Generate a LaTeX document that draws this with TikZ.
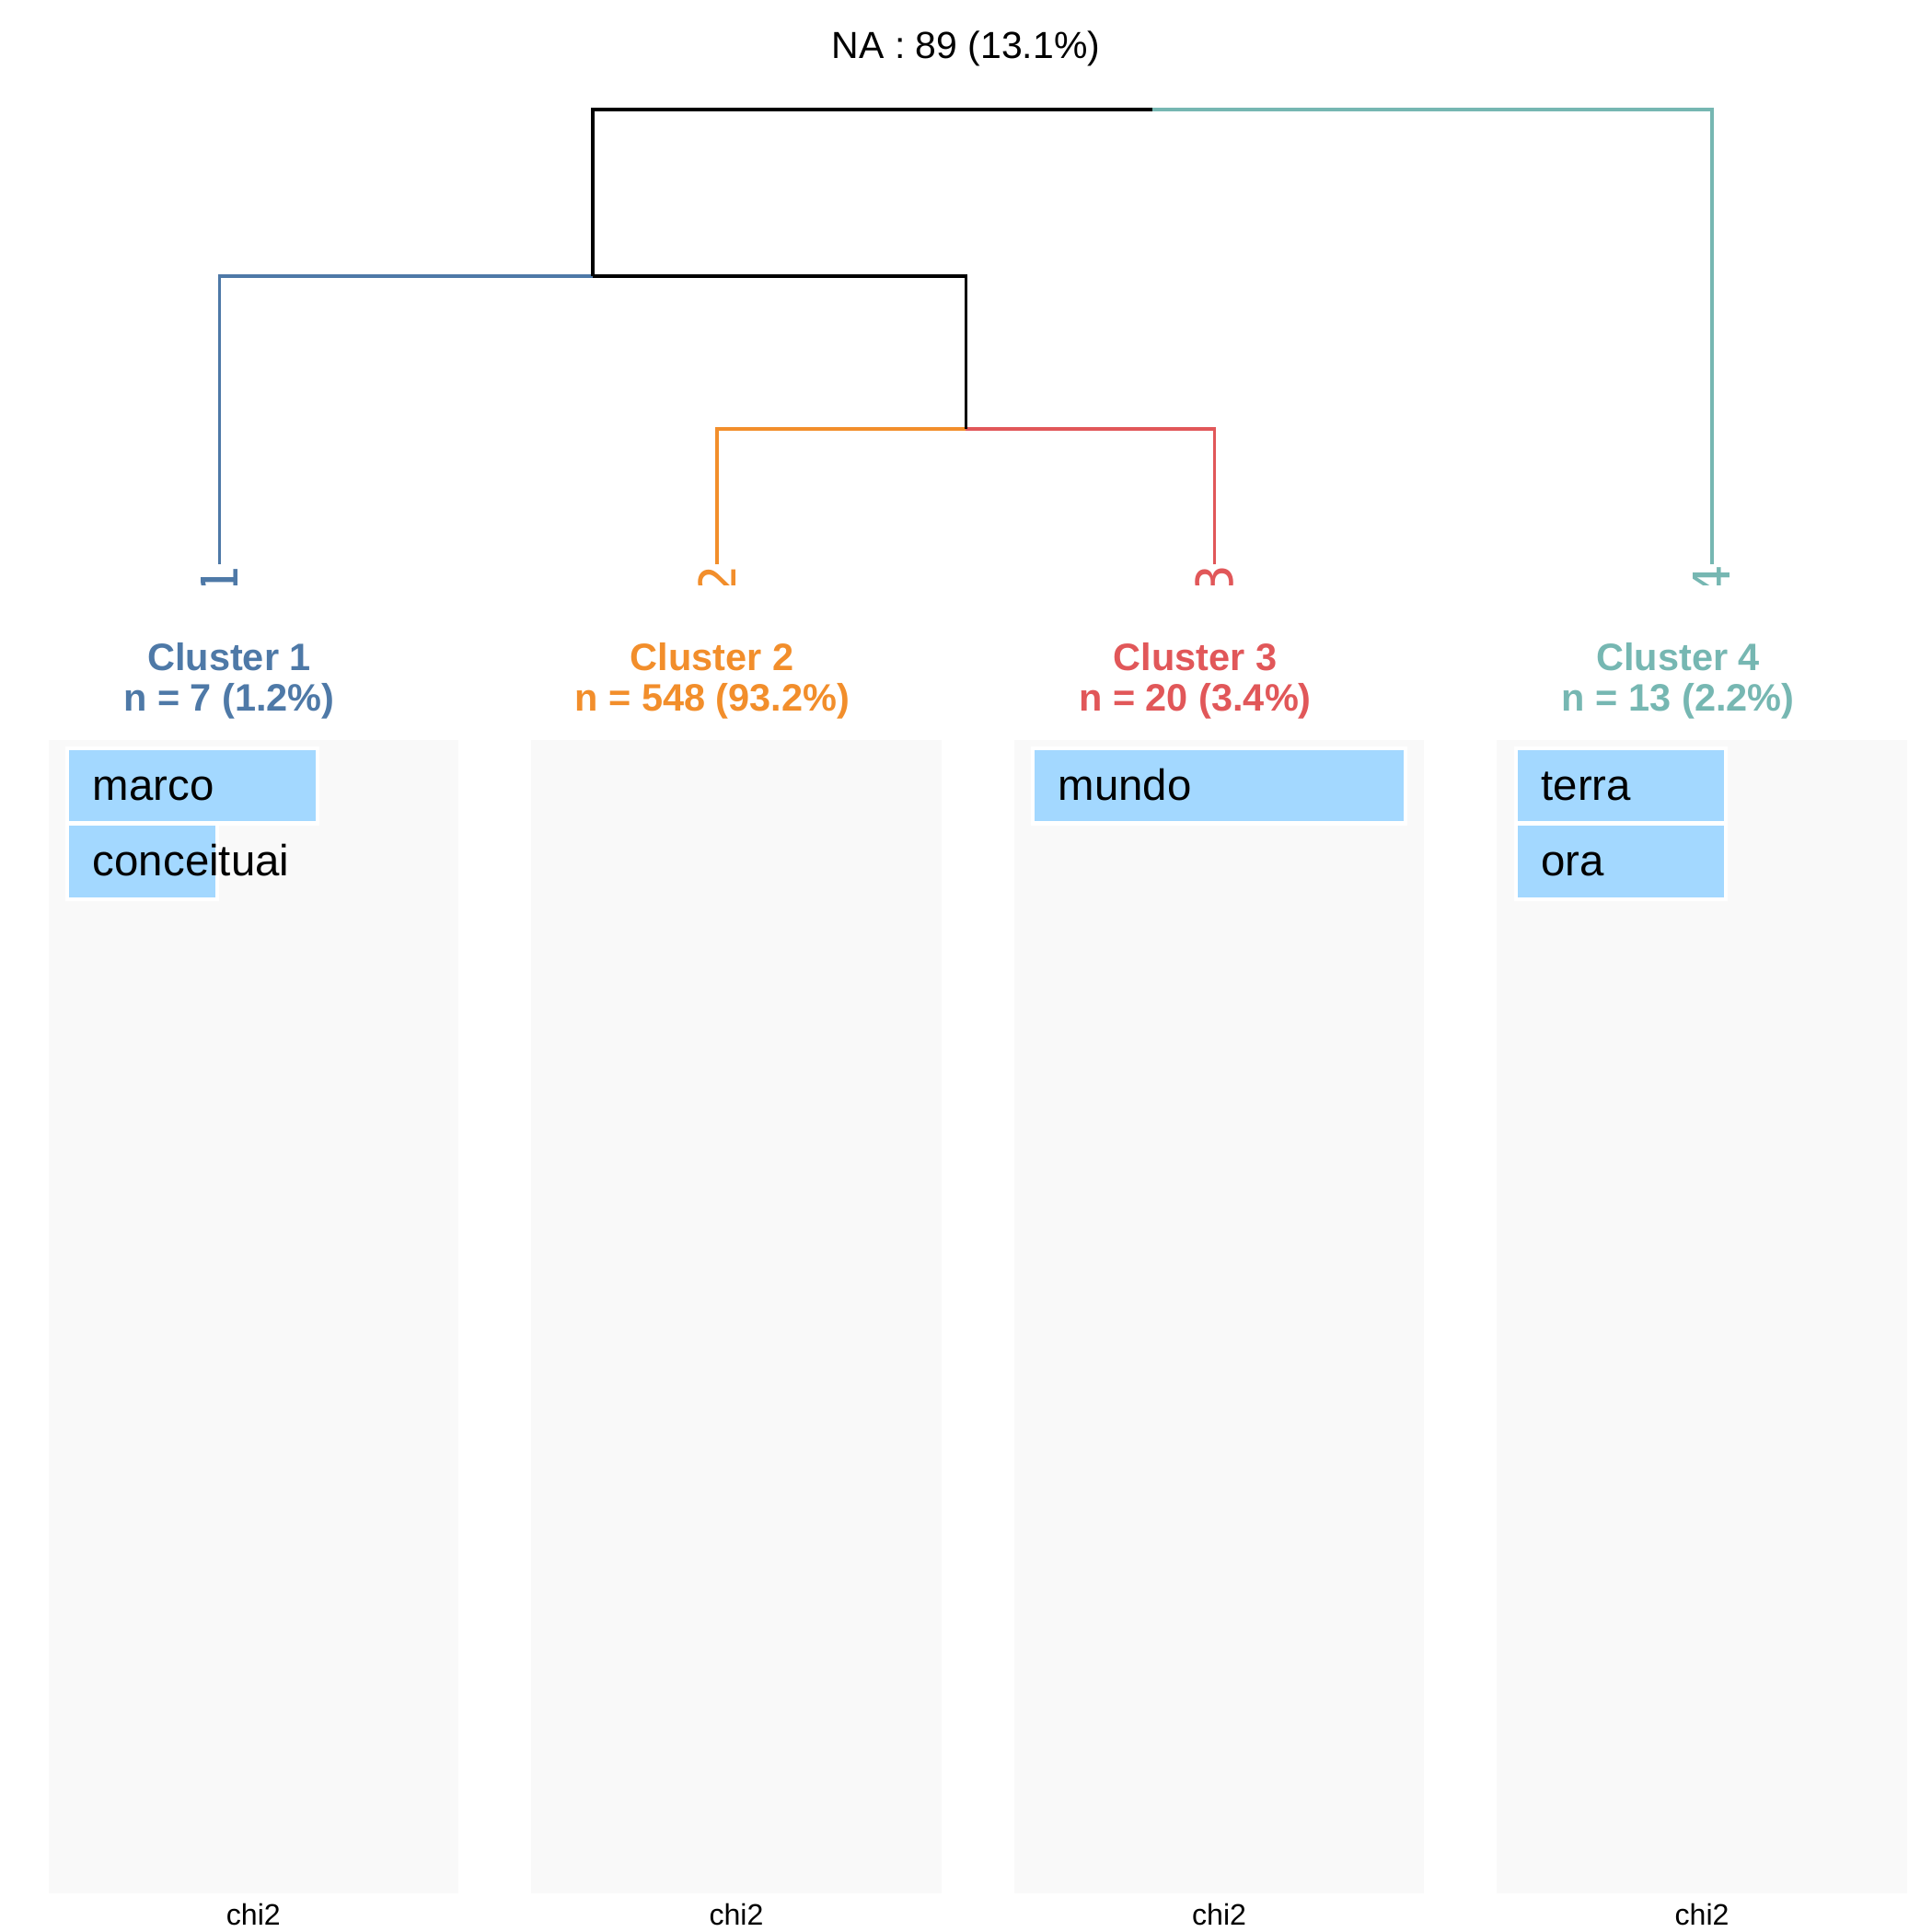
\documentclass[tikz,border=0pt]{standalone}
\usepackage{fontspec}
\setmainfont{Liberation Sans}
\newfontfamily\digitfont{DejaVu Sans}
\definecolor{clblue}{HTML}{4E79A7}
\definecolor{clorange}{HTML}{F28E2B}
\definecolor{clred}{HTML}{E15759}
\definecolor{clteal}{HTML}{76B7B2}
\definecolor{barblue}{HTML}{A3D8FF}
\definecolor{panelgray}{HTML}{F9F9F9}
\begin{document}
\begin{tikzpicture}[x=0.5pt, y=-0.5pt,
    branch/.style={line width=1.3pt},
    panel/.style={fill=panelgray},
    wordbar/.style={fill=barblue, draw=white, line width=1.5pt},
    word/.style={anchor=base west, inner sep=0pt, font=\fontsize{17.7}{20}\selectfont},
    leaflabel/.style={rotate=90, anchor=east, inner sep=0pt, font=\digitfont\fontsize{20.5}{22}\selectfont},
    head/.style={anchor=base, inner sep=0pt, font=\bfseries\fontsize{15.5}{18}\selectfont},
    chi/.style={anchor=base, inner sep=0pt, font=\fontsize{12}{14}\selectfont}]
    \useasboundingbox[fill=white] (0,0) rectangle (1568,1568);
    \node [anchor=base, inner sep=0pt, font=\fontsize{15.3}{18}\selectfont] (na) at (784,47.3) {NA : 89 (13.1\%)};
    % dendrogram
    \coordinate (root) at (935.3,89);
    \coordinate (m123) at (481,224);
    \coordinate (m23) at (783.8,348);
    \coordinate (l1) at (178.2,457.7);
    \coordinate (l2) at (581.9,457.7);
    \coordinate (l3) at (985.7,457.7);
    \coordinate (l4) at (1389.4,457.7);
    \draw [branch, clblue] (m123) -| (l1);
    \draw [branch, clorange] (m23) -| (l2);
    \draw [branch, clred] (m23) -| (l3);
    \draw [branch, clteal] (root) -| (l4);
    \draw [branch] (root) -| (m123);
    \draw [branch] (m123) -| (m23);
    \begin{scope}
      \clip (0,0) rectangle (1568,475);
      \node [leaflabel, text=clblue] (k1) at (l1) {1};
      \node [leaflabel, text=clorange] (k2) at (l2) {2};
      \node [leaflabel, text=clred] (k3) at (l3) {3};
      \node [leaflabel, text=clteal] (k4) at (l4) {4};
    \end{scope}
    % panels
    \fill [panel] (39.3,600.6) rectangle (372,1536.5);
    \fill [panel] (431.2,600.6) rectangle (764,1536.5);
    \fill [panel] (823,600.6) rectangle (1156,1536.5);
    \fill [panel] (1214.6,600.6) rectangle (1548,1536.5);
    \node [head, text=clblue] (h1) at (186,544) {Cluster 1};
    \node [head, text=clblue] (n1) at (186,577) {n = 7 (1.2\%)};
    \node [head, text=clorange] (h2) at (578,544) {Cluster 2};
    \node [head, text=clorange] (n2) at (578,577) {n = 548 (93.2\%)};
    \node [head, text=clred] (h3) at (970,544) {Cluster 3};
    \node [head, text=clred] (n3) at (970,577) {n = 20 (3.4\%)};
    \node [head, text=clteal] (h4) at (1362,544) {Cluster 4};
    \node [head, text=clteal] (n4) at (1362,577) {n = 13 (2.2\%)};
    % word bars
    \draw [wordbar] (54.5,607.2) rectangle (257.5,668.2);
    \draw [wordbar] (54.5,668.9) rectangle (176.2,729.7);
    \draw [wordbar] (838.5,607.2) rectangle (1140.5,668.2);
    \draw [wordbar] (1230.5,607.2) rectangle (1400.5,668.2);
    \draw [wordbar] (1230.5,668.9) rectangle (1400.5,729.7);
    \node [word] (w1) at (75,649.3) {marco};
    \node [word] (w2) at (75,711) {conceituai};
    \node [word] (w3) at (858.5,649.3) {mundo};
    \node [word] (w4) at (1250.5,649.3) {terra};
    \node [word] (w5) at (1250.5,711) {ora};
    \node [chi] (c1) at (205.7,1562.5) {chi2};
    \node [chi] (c2) at (597.6,1562.5) {chi2};
    \node [chi] (c3) at (989.5,1562.5) {chi2};
    \node [chi] (c4) at (1381.3,1562.5) {chi2};
  \end{tikzpicture}
\end{document}
